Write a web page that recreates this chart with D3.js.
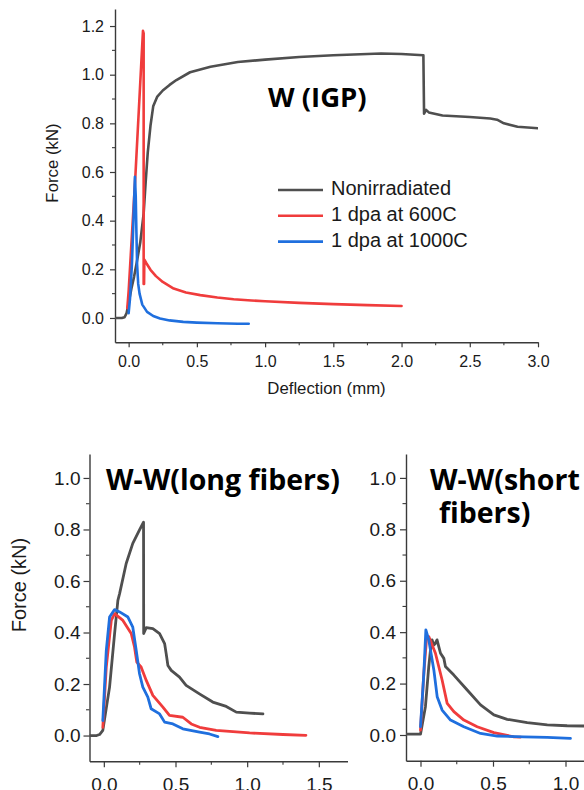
<!DOCTYPE html>
<html><head><meta charset="utf-8">
<script src="https://cdn.jsdelivr.net/npm/d3@7"></script>
<style>
html,body{margin:0;padding:0;background:#fff;}
svg{display:block;font-family:"Liberation Sans",Arial,sans-serif;}
</style></head>
<body>
<svg id="chart" width="584" height="790"></svg>
<script>
// ---------- DATA ----------
const seriesNames = ["Nonirradiated", "1 dpa at 600C", "1 dpa at 1000C"];
const seriesColors = ["#4f4f4f", "#f03c3c", "#1f6fde"];

// Top panel: W (IGP)  [deflection mm, force kN]
const igpNonirr = [[-0.1,0],[-0.05,0],[-0.03,0.003],[-0.015,0.02],[0.0,0.06],[0.02,0.12],[0.04,0.17],[0.06,0.23],[0.085,0.31],[0.11,0.43],[0.125,0.56],[0.14,0.68],[0.16,0.79],[0.18,0.87],[0.21,0.91],[0.25,0.935],[0.3,0.958],[0.35,0.978],[0.45,1.01],[0.6,1.033],[0.8,1.052],[1.0,1.062],[1.25,1.073],[1.5,1.08],[1.75,1.085],[1.85,1.087],[2.0,1.085],[2.16,1.08],[2.165,0.84],[2.18,0.855],[2.2,0.845],[2.3,0.832],[2.5,0.826],[2.65,0.82],[2.7,0.815],[2.75,0.8],[2.85,0.786],[3.0,0.78]];
const igp600 = [[-0.01,0.04],[0.0,0.11],[0.05,0.59],[0.105,1.18],[0.11,1.17],[0.11,0.14],[0.113,0.14],[0.115,0.24],[0.13,0.225],[0.16,0.198],[0.2,0.172],[0.25,0.148],[0.33,0.121],[0.42,0.105],[0.525,0.094],[0.65,0.084],[0.77,0.077],[0.9,0.072],[1.0,0.069],[1.25,0.062],[1.5,0.057],[1.75,0.053],[2.0,0.049]];
const igp1000 = [[0.0,0.02],[0.01,0.08],[0.024,0.22],[0.037,0.43],[0.046,0.58],[0.052,0.5],[0.057,0.35],[0.062,0.22],[0.07,0.14],[0.08,0.1],[0.1,0.055],[0.135,0.025],[0.18,0.008],[0.23,-0.002],[0.3,-0.01],[0.4,-0.016],[0.5,-0.019],[0.65,-0.022],[0.8,-0.024],[0.88,-0.024]];

// Bottom-left panel: W-W (long fibers)
const longNonirr = [[-0.1,0],[-0.05,0],[-0.03,0.004],[-0.007,0.02],[0.04,0.188],[0.075,0.396],[0.098,0.525],[0.11,0.551],[0.156,0.668],[0.202,0.746],[0.249,0.798],[0.277,0.828],[0.278,0.396],[0.296,0.419],[0.342,0.415],[0.389,0.396],[0.424,0.357],[0.435,0.318],[0.447,0.272],[0.47,0.253],[0.528,0.227],[0.574,0.195],[0.667,0.162],[0.76,0.13],[0.854,0.113],[0.924,0.091],[1.017,0.087],[1.11,0.084]];
const long600 = [[-0.007,0.032],[0.017,0.266],[0.052,0.447],[0.075,0.473],[0.133,0.447],[0.191,0.396],[0.214,0.344],[0.23,0.285],[0.26,0.266],[0.296,0.214],[0.342,0.156],[0.412,0.11],[0.458,0.078],[0.551,0.071],[0.61,0.045],[0.668,0.032],[0.784,0.02],[1.017,0.01],[1.25,0.004],[1.41,0.001]];
const long1000 = [[-0.007,0.058],[0.017,0.33],[0.04,0.46],[0.075,0.489],[0.11,0.48],[0.168,0.46],[0.202,0.421],[0.226,0.33],[0.249,0.24],[0.272,0.188],[0.307,0.149],[0.33,0.104],[0.389,0.084],[0.424,0.052],[0.482,0.045],[0.551,0.026],[0.668,0.013],[0.737,0.006],[0.796,-0.004]];

// Bottom-right panel: W-W (short fibers)
const shortNonirr = [[-0.1,0.003],[0.0,0.003],[0.034,0.11],[0.057,0.266],[0.069,0.331],[0.08,0.37],[0.092,0.35],[0.103,0.357],[0.114,0.37],[0.138,0.318],[0.161,0.298],[0.172,0.266],[0.23,0.233],[0.322,0.175],[0.414,0.117],[0.506,0.078],[0.598,0.061],[0.736,0.048],[0.874,0.039],[1.011,0.036],[1.13,0.035]];
const short600 = [[0.0,0.019],[0.023,0.24],[0.041,0.37],[0.057,0.383],[0.103,0.318],[0.149,0.214],[0.184,0.123],[0.23,0.091],[0.299,0.058],[0.391,0.032],[0.506,0.009],[0.644,-0.007],[0.69,-0.008]];
const short1000 = [[0.0,0.032],[0.023,0.24],[0.037,0.409],[0.057,0.37],[0.092,0.253],[0.115,0.149],[0.149,0.097],[0.207,0.058],[0.299,0.032],[0.414,0.006],[0.529,-0.004],[0.713,-0.007],[0.874,-0.009],[1.034,-0.013]];

// Tick values
const igpXTicks = [0.0,0.5,1.0,1.5,2.0,2.5,3.0];
const igpYTicks = [0.0,0.2,0.4,0.6,0.8,1.0,1.2];
const wwXTicks = [0.0,0.5,1.0,1.5];
const wwYTicks = [0.0,0.2,0.4,0.6,0.8,1.0];

// ---------- DRAW ----------
const svg = d3.select("#chart");
const titleFont = '"Open Sans",sans-serif';

function panel(o) {
  const x = d3.scaleLinear().domain(o.xDomain).range(o.xRange);
  const y = d3.scaleLinear().domain(o.yDomain).range(o.yRange);
  const g = svg.append("g");

  const xMinor = d3.range(0.25, o.xDomain[1] + 1e-9, 0.5);
  const yMinor = d3.range(-0.1, o.yDomain[1] + 1e-9, 0.2).map(v => +v.toFixed(2)).filter(v => v > o.yDomain[0] + 1e-6);
  const axColor = "#3a3a3a";

  const xAxis = d3.axisBottom(x).tickValues(o.xTicks).tickFormat(d3.format(".1f"))
    .tickSize(o.tickLen).tickSizeOuter(0).tickPadding(o.xPad);
  const yAxis = d3.axisLeft(y).tickValues(o.yTicks).tickFormat(d3.format(".1f"))
    .tickSize(o.tickLen).tickSizeOuter(0).tickPadding(o.yPad);

  const gx = g.append("g").attr("transform", `translate(0,${o.yRange[0]})`).call(xAxis);
  const gy = g.append("g").attr("transform", `translate(${o.xRange[0]},0)`).call(yAxis);
  [gx, gy].forEach(a => {
    a.select(".domain").attr("stroke", axColor).attr("stroke-width", 1.4);
    a.selectAll(".tick line").attr("stroke", axColor).attr("stroke-width", 1.2);
    a.selectAll(".tick text").attr("fill", "#1a1a1a").style("font-size", o.tickFont + "px")
      .style("font-family", '"Liberation Sans",Arial,sans-serif');
  });
  gx.selectAll(".minor").data(xMinor).enter().append("line")
    .attr("x1", d => x(d)).attr("x2", d => x(d)).attr("y1", 0).attr("y2", o.minorLen)
    .attr("stroke", axColor).attr("stroke-width", 1.1);
  gy.selectAll(".minor").data(yMinor).enter().append("line")
    .attr("y1", d => y(d)).attr("y2", d => y(d)).attr("x1", 0).attr("x2", -o.minorLen)
    .attr("stroke", axColor).attr("stroke-width", 1.1);

  const clipId = "clip" + Math.round(o.xRange[0]) + "_" + Math.round(o.yRange[0]);
  svg.append("clipPath").attr("id", clipId).append("rect")
    .attr("x", o.xRange[0]).attr("y", o.yRange[1]).attr("width", o.xRange[1] - o.xRange[0]).attr("height", o.yRange[0] - o.yRange[1]);
  const line = d3.line().x(d => x(d[0])).y(d => y(d[1]));
  g.append("g").attr("clip-path", `url(#${clipId})`).selectAll("path").data(o.series).enter().append("path")
    .attr("d", d => line(d)).attr("fill", "none")
    .attr("stroke", (d, i) => seriesColors[i]).attr("stroke-width", o.lineW)
    .attr("stroke-linejoin", "round").attr("stroke-linecap", "round");

  return {x, y, g};
}

// Top panel
panel({
  xDomain: [-0.1, 3.0], xRange: [115, 538],
  yDomain: [-0.1, 1.27], yRange: [342.3, 9],
  xTicks: igpXTicks, yTicks: igpYTicks,
  tickLen: 5, minorLen: 3, xPad: 8, yPad: 6, tickFont: 16, lineW: 2.6,
  series: [igpNonirr, igp600, igp1000]
});
svg.append("text").attr("x", 326.5).attr("y", 390).attr("text-anchor", "middle")
  .attr("dominant-baseline", "middle").style("font-size", "16.8px").attr("fill", "#1a1a1a").text("Deflection (mm)");
svg.append("text").attr("transform", "translate(54,163) rotate(-90)").attr("text-anchor", "middle")
  .attr("dominant-baseline", "middle").style("font-size", "16.8px").attr("fill", "#1a1a1a").text("Force (kN)");
svg.append("text").attr("x", 268).attr("y", 100).attr("dominant-baseline", "middle")
  .style("font-family", titleFont).style("font-weight", "700").style("font-size", "27.5px").text("W (IGP)");

// legend
const leg = svg.append("g");
seriesNames.forEach((n, i) => {
  const yy = 190 + i * 25.8;
  leg.append("line").attr("x1", 278).attr("x2", 323).attr("y1", yy).attr("y2", yy)
    .attr("stroke", seriesColors[i]).attr("stroke-width", 2.6);
  leg.append("text").attr("x", 331).attr("y", yy).attr("dominant-baseline", "middle")
    .style("font-size", "20px").attr("fill", "#1a1a1a").text(n);
});

// Bottom-left panel
panel({
  xDomain: [-0.1, 1.7], xRange: [89.5, 347.5],
  yDomain: [-0.1, 1.093], yRange: [761.3, 454],
  xTicks: wwXTicks, yTicks: wwYTicks,
  tickLen: 6, minorLen: 3.5, xPad: 10, yPad: 3, tickFont: 19, lineW: 2.8,
  series: [longNonirr, long600, long1000]
});
svg.append("text").attr("transform", "translate(21,585) rotate(-90)").attr("text-anchor", "middle")
  .attr("dominant-baseline", "middle").style("font-size", "20px").attr("fill", "#1a1a1a").text("Force (kN)");
svg.append("text").attr("x", 106).attr("y", 482.5).attr("dominant-baseline", "middle")
  .style("font-family", titleFont).style("font-weight", "700").style("font-size", "28.5px").text("W-W(long fibers)");

// Bottom-right panel
panel({
  xDomain: [-0.1, 1.2], xRange: [406, 594.5],
  yDomain: [-0.1, 1.093], yRange: [760.7, 454],
  xTicks: [0.0, 0.5, 1.0], yTicks: wwYTicks,
  tickLen: 6, minorLen: 3.5, xPad: 10, yPad: 4, tickFont: 19, lineW: 2.8,
  series: [shortNonirr, short600, short1000]
});
svg.append("text").attr("x", 430).attr("y", 482.5).attr("dominant-baseline", "middle")
  .style("font-family", titleFont).style("font-weight", "700").style("font-size", "28.5px").text("W-W(short");
svg.append("text").attr("x", 439).attr("y", 515.5).attr("dominant-baseline", "middle")
  .style("font-family", titleFont).style("font-weight", "700").style("font-size", "28.5px").text("fibers)");
</script>
</body></html>
